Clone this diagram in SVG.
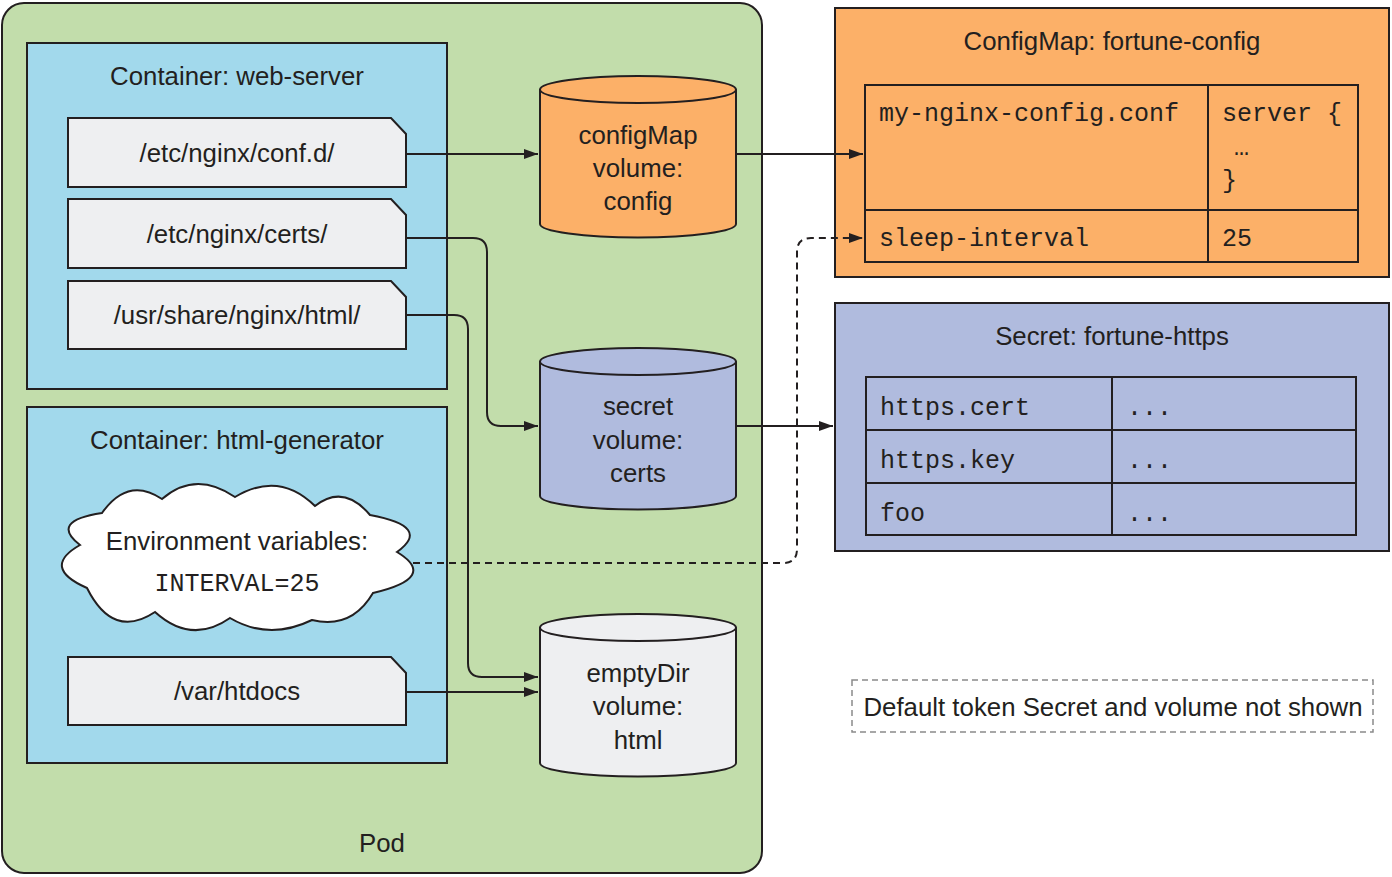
<svg xmlns="http://www.w3.org/2000/svg" width="1392" height="877" viewBox="0 0 1392 877">
<style>
.s{font-family:"Liberation Sans",Arial,sans-serif;font-size:25.8px;fill:#231f20;text-anchor:middle}
.m{font-family:"Liberation Mono","Courier New",monospace;font-size:25px;fill:#231f20}
.b{stroke:#231f20;stroke-width:2}
.ln{fill:none;stroke:#231f20;stroke-width:2}
.folder{fill:#eeeff1;stroke:#231f20;stroke-width:2}
</style>
<defs>
<marker id="ah" viewBox="0 0 14 10" refX="14" refY="5" markerWidth="14" markerHeight="10" markerUnits="userSpaceOnUse" orient="auto">
<path d="M0,0 L14,5 L0,10 Z" fill="#231f20"/>
</marker>
</defs>
<rect width="1392" height="877" fill="#ffffff"/>
<g id="pod">
<rect x="2" y="3" width="760" height="870" rx="22" fill="#c2ddab" class="b"/>
<text class="s" x="382" y="852">Pod</text>
</g>
<g id="web-server">
<rect x="27" y="43" width="420" height="346" fill="#a2d9ec" class="b"/>
<text class="s" x="237" y="85">Container: web-server</text>
</g>
<g id="conf-d">
<path class="folder" d="M68,118 H391 L406,134 V187 H68 Z"/>
<text class="s" x="237" y="162">/etc/nginx/conf.d/</text>
</g>
<g id="certs">
<path class="folder" d="M68,199 H391 L406,215 V268 H68 Z"/>
<text class="s" x="237" y="243">/etc/nginx/certs/</text>
</g>
<g id="html-dir">
<path class="folder" d="M68,281 H391 L406,297 V349 H68 Z"/>
<text class="s" x="237" y="324">/usr/share/nginx/html/</text>
</g>
<g id="html-generator">
<rect x="27" y="407" width="420" height="356" fill="#a2d9ec" class="b"/>
<text class="s" x="237" y="449">Container: html-generator</text>
</g>
<g id="env-cloud">
<path fill="#ffffff" class="b" d="M80,545 Q49,521 102,513 Q128,476 162,499 Q195.5,470 235,497 Q279,470.5 315,506 Q343.5,483.5 370,515 Q432.5,526.5 397,552 Q439,577.5 373,593 Q351.5,629.5 312,620 Q269,641 230,618 Q191.5,645 155,612 Q113,640 87,588 Q40.5,567.5 80,545 Z"/>
<text class="s" x="237" y="550">Environment variables:</text>
<text class="m" x="237" y="591" text-anchor="middle">INTERVAL=25</text>
</g>
<g id="htdocs">
<path class="folder" d="M68,657 H391 L406,673 V725 H68 Z"/>
<text class="s" x="237" y="700">/var/htdocs</text>
</g>
<g id="config-volume">
<path fill="#fcb068" class="b" d="M540,89.5 A98,13.5 0 0 1 736,89.5 V224 A98,13.5 0 0 1 540,224 Z"/>
<path class="ln" d="M540,89.5 A98,13.5 0 0 0 736,89.5"/>
<text class="s" x="638" y="144">configMap</text>
<text class="s" x="638" y="177">volume:</text>
<text class="s" x="638" y="210">config</text>
</g>
<g id="certs-volume">
<path fill="#b0bbde" class="b" d="M540,361.5 A98,13.5 0 0 1 736,361.5 V496 A98,13.5 0 0 1 540,496 Z"/>
<path class="ln" d="M540,361.5 A98,13.5 0 0 0 736,361.5"/>
<text class="s" x="638" y="415">secret</text>
<text class="s" x="638" y="449">volume:</text>
<text class="s" x="638" y="482">certs</text>
</g>
<g id="html-volume">
<path fill="#eeeff1" class="b" d="M540,627.5 A98,13.5 0 0 1 736,627.5 V763 A98,13.5 0 0 1 540,763 Z"/>
<path class="ln" d="M540,627.5 A98,13.5 0 0 0 736,627.5"/>
<text class="s" x="638" y="682">emptyDir</text>
<text class="s" x="638" y="715">volume:</text>
<text class="s" x="638" y="749">html</text>
</g>
<g id="configmap">
<rect x="835" y="8" width="554" height="269" fill="#fcb068" class="b"/>
<text class="s" x="1112" y="50">ConfigMap: fortune-config</text>
<rect x="865" y="85" width="493" height="177" fill="none" class="b"/>
<line x1="865" y1="210" x2="1358" y2="210" class="b"/>
<line x1="1208" y1="85" x2="1208" y2="262" class="b"/>
<text class="m" x="879" y="121">my-nginx-config.conf</text>
<text class="m" x="1222" y="121">server {</text>
<text class="m" x="1234" y="155">…</text>
<text class="m" x="1222" y="188">}</text>
<text class="m" x="879" y="246">sleep-interval</text>
<text class="m" x="1222" y="246">25</text>
</g>
<g id="secret">
<rect x="835" y="303" width="554" height="248" fill="#b0bbde" class="b"/>
<text class="s" x="1112" y="345">Secret: fortune-https</text>
<rect x="866" y="377" width="490" height="158" fill="none" class="b"/>
<line x1="866" y1="430" x2="1356" y2="430" class="b"/>
<line x1="866" y1="483" x2="1356" y2="483" class="b"/>
<line x1="1112" y1="377" x2="1112" y2="535" class="b"/>
<text class="m" x="880" y="415">https.cert</text>
<text class="m" x="1127" y="415">...</text>
<text class="m" x="880" y="468">https.key</text>
<text class="m" x="1127" y="468">...</text>
<text class="m" x="880" y="521">foo</text>
<text class="m" x="1127" y="521">...</text>
</g>
<g id="note">
<rect x="852" y="680" width="521" height="52" fill="#ffffff" stroke="#8a8a8a" stroke-width="1.5" stroke-dasharray="6,4"/>
<text class="s" x="1113" y="716">Default token Secret and volume not shown</text>
</g>
<g id="connectors">
<path class="ln" marker-end="url(#ah)" d="M406,154 H538"/>
<path class="ln" marker-end="url(#ah)" d="M406,238 H473 Q487,238 487,252 V412 Q487,426 501,426 H538"/>
<path class="ln" marker-end="url(#ah)" d="M406,315 H454 Q468,315 468,329 V663 Q468,677 482,677 H538"/>
<path class="ln" marker-end="url(#ah)" d="M406,692 H538"/>
<path class="ln" marker-end="url(#ah)" d="M736,154 H863"/>
<path class="ln" marker-end="url(#ah)" d="M736,426 H833"/>
<path class="ln" stroke-dasharray="7,5" marker-end="url(#ah)" d="M413,563 H783 Q797,563 797,549 V252 Q797,238 811,238 H863"/>
</g>
</svg>
